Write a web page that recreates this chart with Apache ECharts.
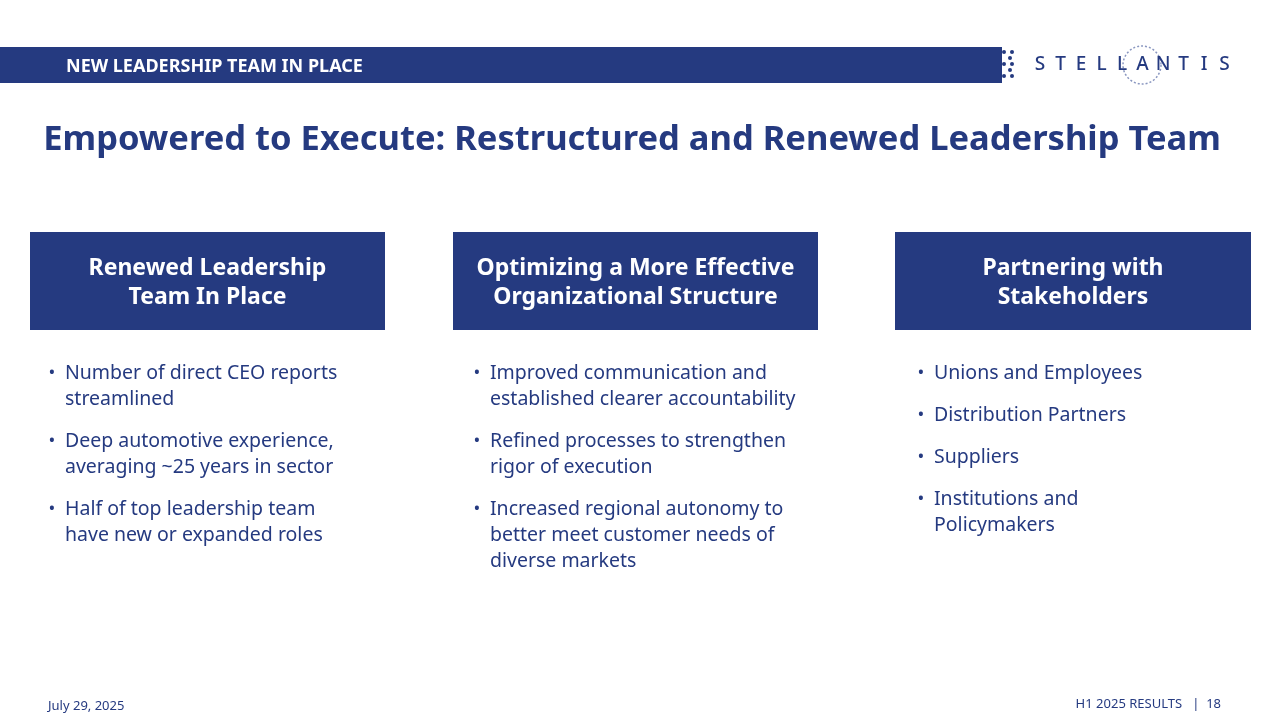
<!DOCTYPE html>
<html><head><meta charset="utf-8">
<script src="https://cdn.jsdelivr.net/npm/echarts@6/dist/echarts.min.js"></script>
<style>html,body{margin:0;padding:0;background:#fff}#c{width:1280px;height:720px}</style>
</head><body><div id="c"></div>
<script>
const banner = "NEW LEADERSHIP TEAM IN PLACE";
const title = "Empowered to Execute: Restructured and Renewed Leadership Team";
const headings = [
  "Renewed Leadership\nTeam In Place",
  "Optimizing a More Effective\nOrganizational Structure",
  "Partnering with\nStakeholders"
];
const bullets1 = ["Number of direct CEO reports\nstreamlined","Deep automotive experience,\naveraging ~25 years in sector","Half of top leadership team\nhave new or expanded roles"];
const bullets2 = ["Improved communication and\nestablished clearer accountability","Refined processes to strengthen\nrigor of execution","Increased regional autonomy to\nbetter meet customer needs of\ndiverse markets"];
const bullets3 = ["Unions and Employees","Distribution Partners","Suppliers","Institutions and\nPolicymakers"];
const footLeft = "July 29, 2025";
const footRight = "H1 2025 RESULTS   |  18";
const logo = "STELLANTIS";

const C = '#253a80', F = '"Noto Sans", sans-serif';
const g = [];
g.push({type:'rect',shape:{x:0,y:47,width:1002,height:36},style:{fill:C}});
g.push({type:'text',x:66,y:67,style:{text:banner,fill:'#fff',font:'bold 18px '+F,verticalAlign:'middle'}});
[[1004,52],[1010,58],[1004,64],[1010,70],[1004,76],[1012,52],[1012,64],[1012,76]].forEach(p=>g.push({type:'circle',shape:{cx:p[0],cy:p[1],r:2},style:{fill:C}}));
g.push({type:'circle',shape:{cx:1142,cy:65,r:19},style:{fill:'none',stroke:'#8a97c0',lineWidth:1.5,lineDash:[2,2]}});
for(let i=0;i<logo.length;i++){
  g.push({type:'text',x:1040+i*20.5,y:65,style:{text:logo[i],fill:C,font:'500 19px '+F,align:'center',verticalAlign:'middle'}});
}
g.push({type:'text',x:632,y:140,style:{text:title,fill:C,font:'bold 34.5px '+F,align:'center',verticalAlign:'middle'}});
const cols=[{x:30,w:355,bx:52},{x:453,w:365,bx:477},{x:895,w:356,bx:921}];
const lists=[bullets1,bullets2,bullets3];
cols.forEach((c,i)=>{
  g.push({type:'rect',shape:{x:c.x,y:232,width:c.w,height:98},style:{fill:C}});
  g.push({type:'text',x:c.x+c.w/2,y:283,style:{text:headings[i],fill:'#fff',font:'bold 23px '+F,align:'center',verticalAlign:'middle',lineHeight:29}});
  let y=373;
  lists[i].forEach(b=>{
    g.push({type:'text',x:c.bx,y:y,style:{text:'•',fill:C,font:'18px '+F,align:'center',verticalAlign:'middle'}});
    g.push({type:'text',x:c.bx+13,y:y-13,style:{text:b,fill:C,font:'19.5px '+F,verticalAlign:'top',lineHeight:26}});
    y+= (b.split('\n').length-1)*26 + 42;
  });
});
g.push({type:'text',x:48,y:706,style:{text:footLeft,fill:C,font:'13px '+F,verticalAlign:'middle'}});
g.push({type:'text',x:1221,y:704,style:{text:footRight,fill:C,font:'13px '+F,align:'right',verticalAlign:'middle'}});
const ch=echarts.init(document.getElementById('c'));
ch.setOption({animation:false,graphic:{elements:g}});
</script></body></html>
